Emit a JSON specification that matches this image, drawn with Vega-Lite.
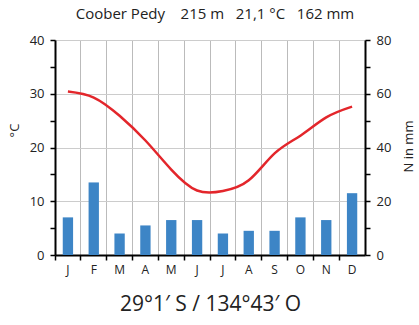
{
  "$schema": "https://vega.github.io/schema/vega-lite/v6.json",
  "width": 310,
  "height": 215,
  "autosize": {"type": "none"},
  "padding": {"left": 55, "top": 40, "right": 54, "bottom": 70},
  "config": {"view": {"stroke": null}, "font": "Open Sans"},
  "title": {"text": "Coober Pedy\u00a0\u00a0\u00a0\u00a0215 m\u00a0\u00a0\u00a021,1 °C\u00a0\u00a0\u00a0162 mm", "fontSize": 15, "fontWeight": "normal", "color": "#222", "offset": 12, "dx": 5},
  "data": {"values": [
    {"month": "J", "temp": 30.4, "precip": 14},
    {"month": "F", "temp": 29.3, "precip": 27},
    {"month": "M", "temp": 25.9, "precip": 8},
    {"month": "A", "temp": 21.3, "precip": 11},
    {"month": "M ", "temp": 15.9, "precip": 13},
    {"month": "J ", "temp": 12.0, "precip": 13},
    {"month": "J  ", "temp": 11.9, "precip": 8},
    {"month": "A ", "temp": 13.9, "precip": 9},
    {"month": "S", "temp": 18.9, "precip": 9},
    {"month": "O", "temp": 22.2, "precip": 14},
    {"month": "N", "temp": 25.6, "precip": 13},
    {"month": "D", "temp": 27.6, "precip": 23}
  ]},
  "encoding": {
    "x": {
      "field": "month", "type": "ordinal", "sort": null,
      "scale": {"paddingInner": 0, "paddingOuter": 0},
      "axis": {
        "title": "29°1′ S / 134°43′ O", "titleFontSize": 21, "titleFontWeight": "normal", "titleColor": "#222", "titlePadding": 18,
        "labelAngle": 0, "bandPosition": 0, "labelFontSize": 12, "labelColor": "#222", "labelPadding": 4,
        "grid": true, "gridColor": "#bbb", "gridWidth": 1,
        "domainColor": "#000", "domainWidth": 2, "tickColor": "#000", "tickWidth": 1.5, "tickSize": 5
      }
    }
  },
  "layer": [
    {
      "mark": {"type": "bar", "color": "#3d85c6", "width": {"band": 0.4}},
      "encoding": {
        "y": {
          "field": "precip", "type": "quantitative",
          "scale": {"domain": [0, 80], "nice": false},
          "axis": {
            "orient": "right", "title": "N in mm", "titleAngle": -90, "titleFontSize": 13, "titleFontWeight": "normal", "titleColor": "#222",
            "titleX": 43, "titleY": 106, "titleAlign": "center", "titleBaseline": "middle",
            "values": [0, 10, 20, 30, 40, 50, 60, 70, 80],
            "labelExpr": "datum.value % 20 == 0 ? datum.label : ''",
            "labelFontSize": 13, "labelColor": "#222", "labelPadding": 6,
            "grid": false, "domainColor": "#000", "domainWidth": 2, "tickColor": "#000", "tickWidth": 1.5, "tickSize": 5
          }
        }
      }
    },
    {
      "mark": {"type": "line", "color": "#e3262b", "strokeWidth": 2.5, "interpolate": "natural"},
      "encoding": {
        "y": {
          "field": "temp", "type": "quantitative",
          "scale": {"domain": [0, 40], "nice": false},
          "axis": {
            "orient": "left", "title": "°C", "titleFontSize": 13, "titleFontWeight": "normal", "titleColor": "#222",
            "titleX": -41, "titleY": 90, "titleAlign": "center", "titleBaseline": "middle", "titleAngle": -90,
            "values": [0, 5, 10, 15, 20, 25, 30, 35, 40],
            "labelExpr": "datum.value % 10 == 0 ? datum.label : ''",
            "labelFontSize": 13, "labelColor": "#222", "labelPadding": 6,
            "grid": true, "gridColor": "#ccc",
            "gridOpacity": {"condition": {"test": "datum.value % 10 == 0", "value": 1}, "value": 0},
            "domainColor": "#000", "domainWidth": 2, "tickColor": "#000", "tickWidth": 1.5, "tickSize": 5
          }
        }
      }
    }
  ],
  "resolve": {"scale": {"y": "independent"}}
}
